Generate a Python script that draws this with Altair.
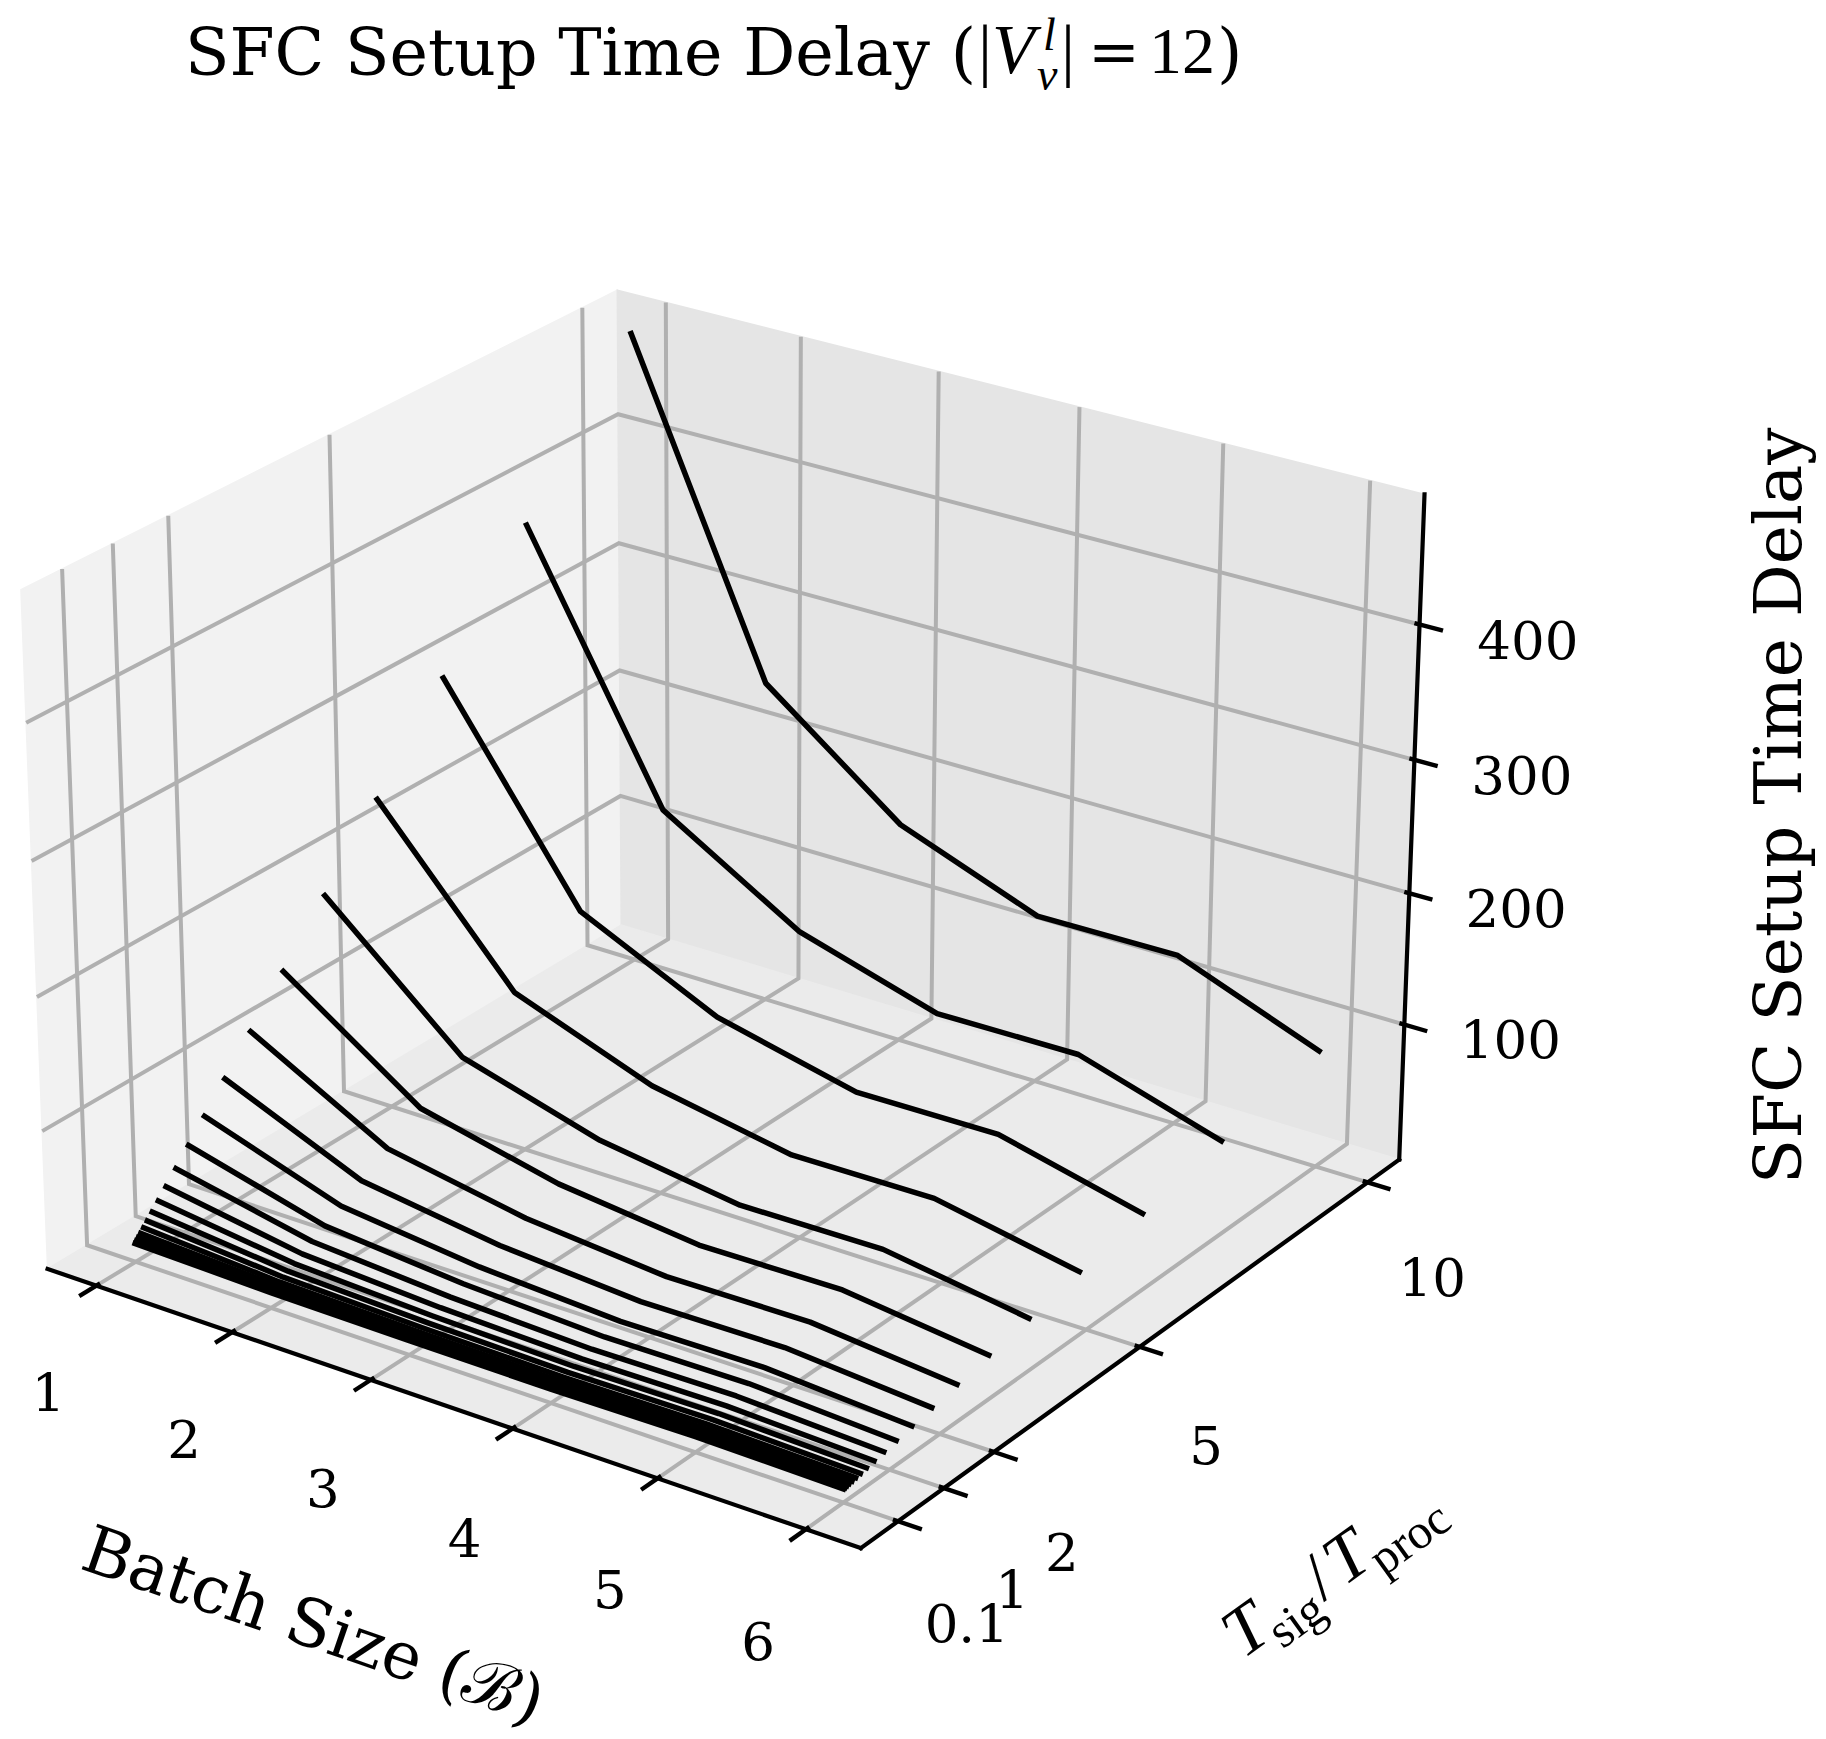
import math
import numpy as np
import pandas as pd
import altair as alt

# ---------------- values ----------------
BATCH_SIZES = [1, 2, 3, 4, 5, 6]
RATIOS = [0.1, 0.127, 0.162, 0.207, 0.264, 0.336, 0.428, 0.546, 0.695, 0.886,
          1.129, 1.438, 1.833, 2.336, 2.976, 3.793, 4.833, 6.158, 7.848, 10.0]
# one row per T_sig/T_proc value, columns = batch size 1..6
DELAYS = [
    [9.6, 7.2, 6.4, 6.0, 7.2, 5.6],
    [10.9, 7.9, 6.8, 6.3, 7.5, 5.8],
    [12.6, 8.7, 7.4, 6.7, 7.9, 6.1],
    [14.7, 9.8, 8.1, 7.3, 8.5, 6.5],
    [17.5, 11.1, 9.0, 8.0, 9.2, 6.9],
    [20.9, 12.9, 10.2, 8.8, 10.0, 7.5],
    [25.4, 15.1, 11.7, 9.9, 11.1, 8.2],
    [31.0, 17.9, 13.5, 11.3, 12.5, 9.2],
    [38.2, 21.5, 15.9, 13.1, 14.3, 10.4],
    [47.3, 26.1, 19.0, 15.4, 16.6, 11.9],
    [59.0, 31.9, 22.9, 18.3, 19.5, 13.8],
    [73.8, 39.3, 27.8, 22.1, 23.3, 16.3],
    [92.8, 48.8, 34.1, 26.8, 28.0, 19.5],
    [116.9, 60.9, 42.2, 32.8, 34.0, 23.5],
    [147.7, 76.2, 52.4, 40.5, 41.7, 28.6],
    [186.8, 95.8, 65.5, 50.3, 51.5, 35.1],
    [236.8, 120.8, 82.1, 62.8, 64.0, 43.5],
    [300.4, 152.6, 103.3, 78.7, 79.9, 54.1],
    [381.5, 193.1, 130.4, 99.0, 100.2, 67.6],
    [484.8, 244.8, 164.8, 124.8, 126.0, 84.8],
]
BATCH_TICKS = [1, 2, 3, 4, 5, 6]
RATIO_TICKS = [0.1, 1, 2, 5, 10]
RATIO_TICK_TEXT = ["0.1", "1", "2", "5", "10"]
DELAY_TICKS = [100, 200, 300, 400]

# ---------------- axis limits (5% margin on x/y, none on z) ----------------
def limits(vals, margin):
    lo, hi = min(vals), max(vals)
    r = hi - lo
    lo, hi = lo - margin * r, hi + margin * r
    return (lo + hi) / 2.0, (hi - lo) / 2.0 * (1 + 1 / 24.0)

all_delays = [d for row in DELAYS for d in row]
cB, hB = limits(BATCH_SIZES, 0.05)
cT, hT = limits(RATIOS, 0.05)
cZ, hZ = limits(all_delays, 0.0)

def nb_of(b): return (b - cB) / hB
def nt_of(t): return (t - cT) / hT
def nz_of(z): return (z - cZ) / hZ

# ---------------- perspective camera ----------------
ELEV, AZIM, DIST = 25.0, -55.0, 10.0
box = np.array([4.0, 4.0, 3.0])
box = box * 1.8294640721620434 / np.linalg.norm(box)
half = box / 2.0 * (1 + 1 / 24.0)
er, ar = math.radians(ELEV), math.radians(AZIM)
wv = np.array([math.cos(er) * math.cos(ar), math.cos(er) * math.sin(ar), math.sin(er)])
uv = np.cross([0.0, 0.0, 1.0], wv)
uv = uv / np.linalg.norm(uv)
vv = np.cross(wv, uv)
cu = [float(x) for x in uv * half]
cv = [float(x) for x in vv * half]
cw = [float(x) for x in wv * half]

W, H = 1810, 1723
X0, Y0, S = 724.2, 875.8, 8304.2
XDOM = [-X0 / S, (W - X0) / S]
YDOM = [(Y0 - H) / S, Y0 / S]

def lin(c):
    return f"({c[0]!r}*datum.nb + {c[1]!r}*datum.nt + {c[2]!r}*datum.nz)"

def proj(ch):
    return ch.transform_calculate(
        den=f"{DIST!r} - {lin(cw)}"
    ).transform_calculate(
        px=f"{lin(cu)}/datum.den",
        py=f"{lin(cv)}/datum.den",
    )

def project_px(nb, nt, nz):
    n = np.array([nb, nt, nz])
    den = DIST - np.dot(cw, n)
    return X0 + S * np.dot(cu, n) / den, Y0 - S * np.dot(cv, n) / den

def screen_angle(p, q):
    (x1, y1), (x2, y2) = project_px(*p), project_px(*q)
    a = math.degrees(math.atan2(y2 - y1, x2 - x1))
    return a % 360

XENC = alt.X("px:Q", scale=alt.Scale(domain=XDOM, nice=False, zero=False), axis=None)
YENC = alt.Y("py:Q", scale=alt.Scale(domain=YDOM, nice=False, zero=False), axis=None)

layers = []

# ---------------- panes ----------------
PANES = [
    ([(-1, -1, -1), (-1, 1, -1), (-1, 1, 1), (-1, -1, 1)], "#f2f2f2"),
    ([(-1, 1, -1), (1, 1, -1), (1, 1, 1), (-1, 1, 1)], "#e5e5e5"),
    ([(-1, -1, -1), (1, -1, -1), (1, 1, -1), (-1, 1, -1)], "#ebebeb"),
]
for pts, col in PANES:
    df = pd.DataFrame([dict(k=i, nb=p[0], nt=p[1], nz=p[2]) for i, p in enumerate(pts)])
    layers.append(proj(alt.Chart(df).mark_line(
        interpolate="linear-closed", fill=col, stroke=col, strokeWidth=1.5
    )).encode(x=XENC, y=YENC, order=alt.Order("k:Q")))

# ---------------- grid lines ----------------
grid = []
gid = 0
for b in BATCH_TICKS:
    n = nb_of(b)
    for k, p in enumerate([(n, -1, -1), (n, 1, -1), (n, 1, 1)]):
        grid.append(dict(g=gid, k=k, nb=p[0], nt=p[1], nz=p[2]))
    gid += 1
for t in RATIO_TICKS:
    n = nt_of(t)
    for k, p in enumerate([(-1, n, 1), (-1, n, -1), (1, n, -1)]):
        grid.append(dict(g=gid, k=k, nb=p[0], nt=p[1], nz=p[2]))
    gid += 1
for z in DELAY_TICKS:
    n = nz_of(z)
    for k, p in enumerate([(1, 1, n), (-1, 1, n), (-1, -1, n)]):
        grid.append(dict(g=gid, k=k, nb=p[0], nt=p[1], nz=p[2]))
    gid += 1
layers.append(proj(alt.Chart(pd.DataFrame(grid)).mark_line(
    color="#b0b0b0", strokeWidth=4, strokeJoin="miter"
)).encode(x=XENC, y=YENC, detail="g:N", order=alt.Order("k:Q")))

# ---------------- axis lines ----------------
AXIS_EDGES = [
    [(-1, -1, -1), (1, -1, -1)],
    [(1, -1, -1), (1, 1, -1)],
    [(1, 1, -1), (1, 1, 1)],
]
rows = []
for a, pts in enumerate(AXIS_EDGES):
    for k, p in enumerate(pts):
        rows.append(dict(g=a, k=k, nb=p[0], nt=p[1], nz=p[2]))
layers.append(proj(alt.Chart(pd.DataFrame(rows)).mark_line(
    color="black", strokeWidth=4.2, strokeCap="square"
)).encode(x=XENC, y=YENC, detail="g:N", order=alt.Order("k:Q")))

# ---------------- ticks ----------------
T_OUT, T_IN = 0.055, 0.012
rows = []
g = 0
for b in BATCH_TICKS:
    n = nb_of(b)
    for k, p in enumerate([(n, -1 - T_OUT, -1), (n, -1 + T_IN, -1)]):
        rows.append(dict(g=g, k=k, nb=p[0], nt=p[1], nz=p[2]))
    g += 1
for t in RATIO_TICKS:
    n = nt_of(t)
    for k, p in enumerate([(1 + T_OUT, n, -1), (1 - T_IN, n, -1)]):
        rows.append(dict(g=g, k=k, nb=p[0], nt=p[1], nz=p[2]))
    g += 1
for z in DELAY_TICKS:
    n = nz_of(z)
    for k, p in enumerate([(1 + T_OUT, 1, n), (1 - T_IN, 1, n)]):
        rows.append(dict(g=g, k=k, nb=p[0], nt=p[1], nz=p[2]))
    g += 1
layers.append(proj(alt.Chart(pd.DataFrame(rows)).mark_line(
    color="black", strokeWidth=4.4
)).encode(x=XENC, y=YENC, detail="g:N", order=alt.Order("k:Q")))

# ---------------- data lines ----------------
line_rows = []
for i, (t, row) in enumerate(zip(RATIOS, DELAYS)):
    for b, d in zip(BATCH_SIZES, row):
        line_rows.append(dict(line=i, ratio=t, batch=b, delay=d))
lines = alt.Chart(pd.DataFrame(line_rows)).transform_calculate(
    nb=f"(datum.batch - {cB!r})/{hB!r}",
    nt=f"(datum.ratio - {cT!r})/{hT!r}",
    nz=f"(datum.delay - {cZ!r})/{hZ!r}",
)
layers.append(proj(lines).mark_line(
    color="black", strokeWidth=5.5, strokeJoin="round", strokeCap="square"
).encode(x=XENC, y=YENC, detail="line:N", order=alt.Order("batch:Q")))

# ---------------- tick labels ----------------
LAB = 0.16
rows = []
for b in BATCH_TICKS:
    rows.append(dict(nb=nb_of(b), nt=-1 - LAB, nz=-1 - LAB, label=str(b)))
for t, s in zip(RATIO_TICKS, RATIO_TICK_TEXT):
    rows.append(dict(nb=1 + LAB, nt=nt_of(t), nz=-1 - LAB, label=s))
for z in DELAY_TICKS:
    rows.append(dict(nb=1 + LAB, nt=1 + LAB, nz=nz_of(z), label=str(z)))
layers.append(proj(alt.Chart(pd.DataFrame(rows)).mark_text(
    font="DejaVu Serif", fontSize=53, color="black", align="center", baseline="top"
)).encode(x=XENC, y=YENC, text="label:N"))

# ---------------- axis labels ----------------
def text_at(p, text, size, font="DejaVu Serif", style="normal", angle=0.0,
            dx=0.0, dy=0.0, align="center", baseline="middle"):
    df = pd.DataFrame([dict(nb=p[0], nt=p[1], nz=p[2])])
    return proj(alt.Chart(df).mark_text(
        text=text, font=font, fontSize=size, fontStyle=style, color="black",
        angle=float(angle) % 360, dx=dx, dy=dy, align=align, baseline=baseline
    )).encode(x=XENC, y=YENC)

ang_b = screen_angle((-1, -1, -1), (1, -1, -1))
ang_t = screen_angle((1, -1, -1), (1, 1, -1))

layers.append(text_at((0, -1.425, -1.407), "Batch Size (\u212c)", 66, angle=ang_b))
layers.append(text_at((1.555, 1.555, 0), "SFC Setup Time Delay", 66, angle=270))

T_PIECES = [  # text, size, style, offset along baseline, extra drop
    ("T", 70, "italic", 0.0, 0),
    ("sig", 49, "normal", 37.9, 15),
    ("/", 70, "normal", 99.1, 0),
    ("T", 70, "italic", 124.6, 0),
    ("proc", 49, "normal", 162.5, 15),
]
for txt, size, style, off, drop in T_PIECES:
    layers.append(text_at((1.466, 0, -1.50), txt, size, font="Liberation Serif",
                          style=style, angle=ang_t, dx=off - 124.8, dy=14 + drop,
                          align="left", baseline="alphabetic"))

# ---------------- title ----------------
TITLE_PIECES = [  # text, font, size, style, x, y, align
    ("SFC Setup Time Delay (", "DejaVu Serif", 65, "normal", 968, 67, "right"),
    ("|", "Liberation Serif", 70, "normal", 970, 65, "left"),
    ("V", "Liberation Serif", 70, "italic", 984, 65, "left"),
    ("l", "Liberation Serif", 46, "italic", 1035, 42, "left"),
    ("v", "Liberation Serif", 46, "italic", 1029, 82, "left"),
    ("|", "Liberation Serif", 70, "normal", 1053, 65, "left"),
    ("=", "DejaVu Serif", 62, "normal", 1080, 65, "left"),
    ("12", "Liberation Serif", 66, "normal", 1141, 65, "left"),
    (")", "DejaVu Serif", 65, "normal", 1209, 67, "left"),
]
dummy = pd.DataFrame({"a": [0]})
for txt, font, size, style, x, y, align in TITLE_PIECES:
    layers.append(alt.Chart(dummy).mark_text(
        text=txt, font=font, fontSize=size, fontStyle=style, color="black",
        align=align, baseline="alphabetic"
    ).encode(x=alt.value(x), y=alt.value(y)))

chart = alt.layer(*layers).properties(
    width=W, height=H, padding=0,
    autosize=alt.AutoSizeParams(type="none"),
    background="white",
).configure_view(strokeWidth=0)

chart.save("out.html", embed_options={"renderer": "svg", "actions": False})
